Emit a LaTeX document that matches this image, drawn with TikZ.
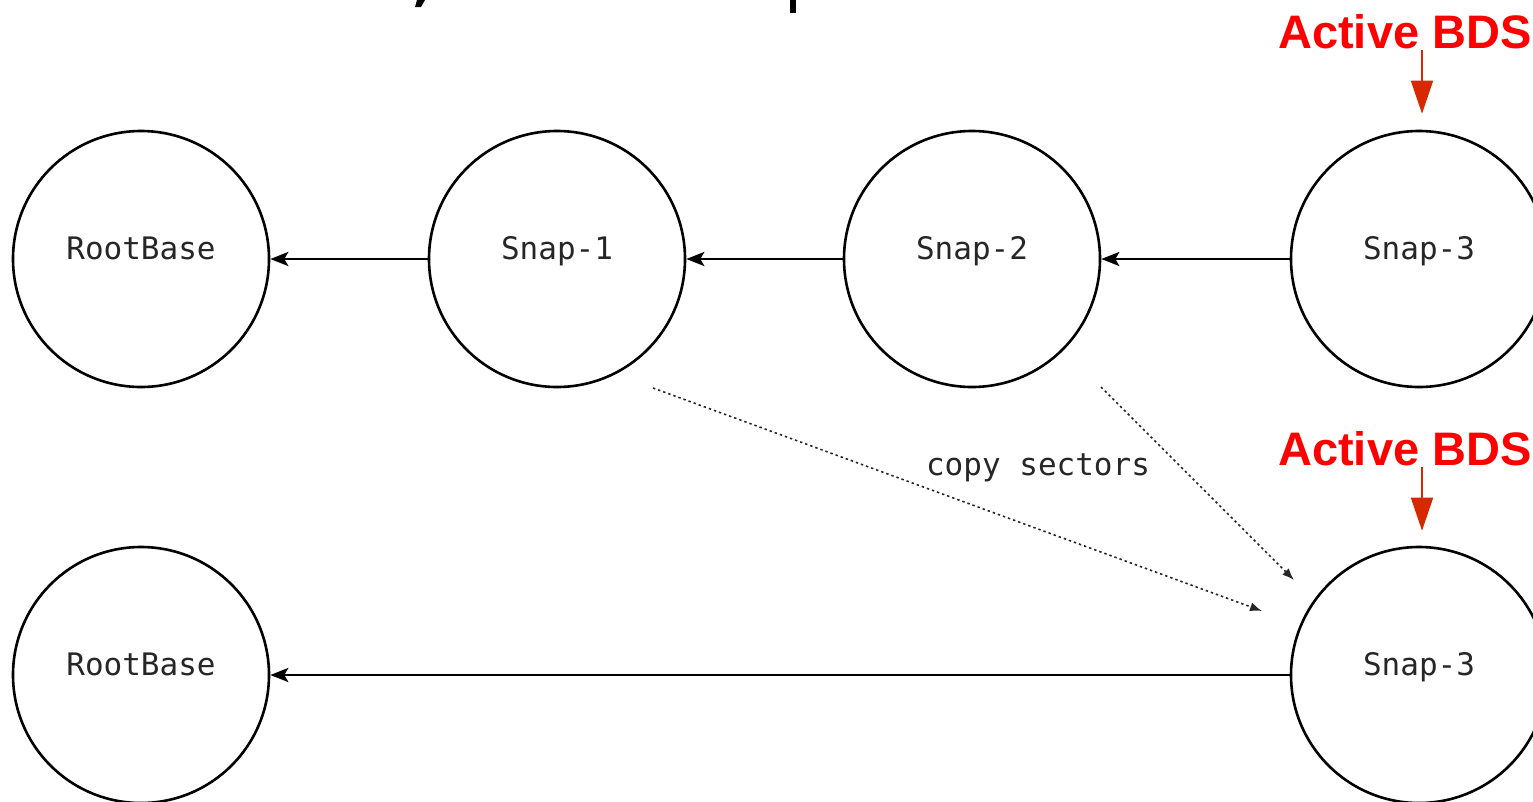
\documentclass[tikz,border=0pt]{standalone}
\usepackage{fontspec}
\usetikzlibrary{arrows.meta,calc}
\newfontfamily\labelfont{DejaVu Sans Mono}
\newfontfamily\tagfont{Liberation Sans}
\definecolor{tagred}{RGB}{255,0,0}
\definecolor{pointerred}{RGB}{214,41,0}
\tikzset{
  snapnode/.style={circle, draw=black, line width=2.6pt, minimum size=256pt, inner sep=0pt,
    font=\labelfont\fontsize{31}{31}\selectfont, text=black!85, text height=22pt, text depth=22pt},
  parentlink/.style={line width=2.6pt, -{Stealth[length=18pt,width=14pt,inset=4pt]}},
  copylink/.style={line width=1.6pt, dash pattern=on 2.4pt off 3pt, black!85,
    -{Latex[length=12pt,width=9pt]}},
  activetag/.style={font=\tagfont\bfseries\fontsize{47}{47}\selectfont, text=tagred, inner sep=0pt},
  activepointer/.style={line width=1.6pt, draw=pointerred,
    -{Triangle[length=33pt,width=22pt,fill=pointerred]}},
  copylabel/.style={font=\labelfont\fontsize{31}{31}\selectfont, text=black!85, inner sep=0pt}
}
\begin{document}
\begin{tikzpicture}[x=1pt,y=-1pt]
  \useasboundingbox (0,0) rectangle (1533,801);
  \clip (0,0) rectangle (1533,801);

  % descenders of the heading line above
  \fill (417,0) -- (425,0) -- (421,7) -- (415,7) -- cycle;
  \fill (790,0) rectangle (796,13);

  % chain before the revert
  \node[snapnode] (r1) at (141,259) {RootBase};
  \node[snapnode] (s1) at (557,259) {Snap-1};
  \node[snapnode] (s2) at (972,259) {Snap-2};
  \node[snapnode] (s3) at (1419,259) {Snap-3};
  \draw[parentlink] (s1) -- (r1);
  \draw[parentlink] (s2) -- (s1);
  \draw[parentlink] (s3) -- (s2);

  % chain after the revert
  \node[snapnode] (r2) at (141,675) {RootBase};
  \node[snapnode] (n3) at (1419,675) {Snap-3};
  \draw[parentlink] (n3) -- (r2);

  % sector copies into the new head
  \coordinate (c1a) at ($(s1)+(96,129)$);
  \coordinate (c1b) at ($(n3)+(-157,-64)$);
  \coordinate (c2a) at ($(s2)+(129,128)$);
  \coordinate (c2b) at ($(n3)+(-125,-95)$);
  \draw[copylink] (c1a) -- (c1b);
  \draw[copylink] (c2a) -- (c2b);
  \node[copylabel, anchor=base] (cp) at (1038,475) {copy sectors};

  % active markers
  \node[activetag, anchor=base west] (t1) at (1278,48) {Active BDS};
  \coordinate (p1) at (1422,50);
  \draw[activepointer] (p1) -- ($(s3.north)+(3,-16)$);
  \node[activetag, anchor=base west] (t2) at (1278,465) {Active BDS};
  \coordinate (p2) at (1422,467);
  \draw[activepointer] (p2) -- ($(n3.north)+(3,-15)$);
\end{tikzpicture}
\end{document}
